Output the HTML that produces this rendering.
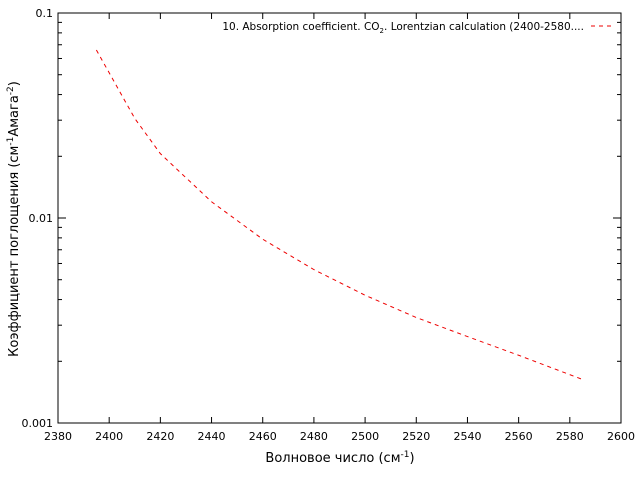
<!DOCTYPE html>
<html><head><meta charset="utf-8"><style>
body{margin:0;background:#fff}
svg text{font-family:"DejaVu Sans","Liberation Sans",sans-serif;font-size:11px;fill:#000}
</style></head><body>
<svg id="chart" width="640" height="480" xmlns="http://www.w3.org/2000/svg">
<g id="axes"></g>
<polyline id="curve" fill="none" stroke="#e00" stroke-width="1" stroke-dasharray="4,4"/>
<text x="584" y="30" text-anchor="end" style="font-size:10.5px">10. Absorption coefficient. CO<tspan dy="3" style="font-size:7px">2</tspan><tspan dy="-3">. Lorentzian calculation (2400-2580....</tspan></text>
<line x1="591" y1="26" x2="612" y2="26" stroke="#e00" stroke-dasharray="4,4"/>
<text x="340" y="462" text-anchor="middle" style="font-size:13px">Волновое число (см<tspan dy="-5" style="font-size:9px">-1</tspan><tspan dy="5">)</tspan></text>
<text transform="translate(18,219) rotate(-90)" text-anchor="middle" style="font-size:13px">Коэффициент поглощения (см<tspan dy="-5" style="font-size:9px">-1</tspan><tspan dy="5">Амага</tspan><tspan dy="-5" style="font-size:9px">-2</tspan><tspan dy="5">)</tspan></text>
</svg>
<script>
const xTicks=[2380,2400,2420,2440,2460,2480,2500,2520,2540,2560,2580,2600];
const yTickVals=[0.001,0.01,0.1];
const yTickLabels=["0.001","0.01","0.1"];
const waveNumbers=[2395,2410,2420,2440,2460,2480,2500,2520,2540,2560,2585];
const absorption=[0.066,0.0306,0.0206,0.012,0.00788,0.0056,0.0042,0.00327,0.00264,0.00214,0.00163];
const L=58,R=621,T=13,B=423;
function xs(v){return L+(v-2380)/(2600-2380)*(R-L);}
function ys(v){return B-(Math.log10(v)+3)/2*(B-T);}
const NS="http://www.w3.org/2000/svg";
const ax=document.getElementById('axes');
function mk(t,a){const e=document.createElementNS(NS,t);for(const k in a)e.setAttribute(k,a[k]);ax.appendChild(e);return e;}
const fr=mk('rect',{x:L,y:T,width:R-L,height:B-T,fill:'none',stroke:'#000','stroke-width':1});


xTicks.forEach(v=>{const x=xs(v);
 const t1=mk('line',{x1:x,y1:B,x2:x,y2:B-6,stroke:'#000'});
 
 
 const t2=mk('line',{x1:x,y1:T,x2:x,y2:T+6,stroke:'#000'});
 
 
 const tx=mk('text',{x:x,y:B+17,'text-anchor':'middle'});tx.textContent=v;
 
 
});
yTickVals.forEach((v,i)=>{const y=ys(v);
 const t=mk('line',{x1:L,y1:y,x2:L+8,y2:y,stroke:'#000'});
 
 
 const t2=mk('line',{x1:R,y1:y,x2:R-8,y2:y,stroke:'#000'});
 
 
 const tx=mk('text',{x:L-5,y:y+4,'text-anchor':'end'});tx.textContent=yTickLabels[i];
 
 
 if(i<yTickVals.length-1){for(let m=2;m<10;m++){const yy=ys(v*m);
  const a=mk('line',{x1:L,y1:yy,x2:L+4,y2:yy,stroke:'#000'});
  
  
  const b=mk('line',{x1:R,y1:yy,x2:R-4,y2:yy,stroke:'#000'});
  
  }}
});
document.getElementById('curve').setAttribute('points',waveNumbers.map((w,i)=>xs(w)+','+ys(absorption[i])).join(' '));
</script>
</body></html>
